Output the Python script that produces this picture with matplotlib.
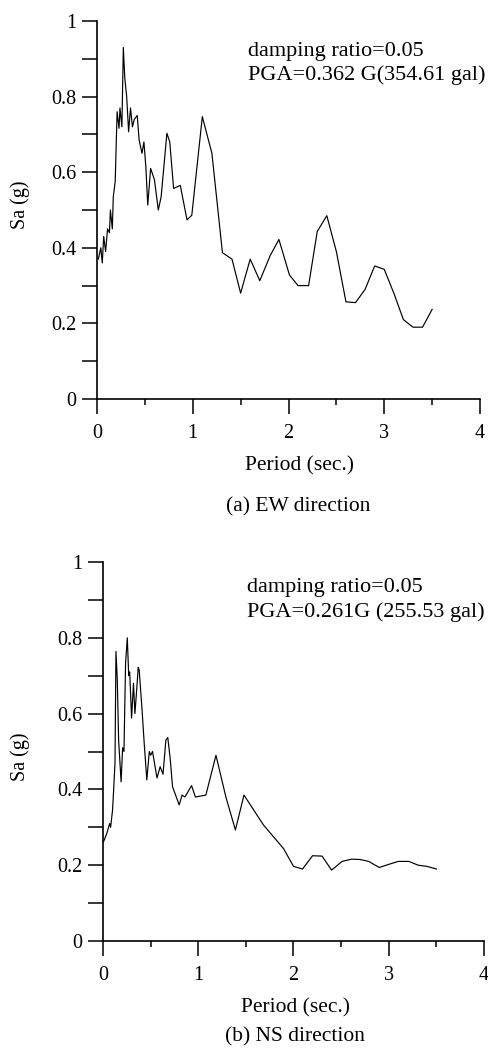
import matplotlib
matplotlib.use("Agg")
import matplotlib.pyplot as plt
from matplotlib.ticker import MultipleLocator, FixedLocator

plt.rcParams['font.family'] = ['Liberation Serif', 'DejaVu Serif']

# ---- data ----
ew_period = [0.014, 0.04, 0.055, 0.07, 0.09, 0.11, 0.13, 0.14, 0.16, 0.17, 0.19, 0.21, 0.23, 0.24,
             0.26, 0.275, 0.29, 0.31, 0.33, 0.35, 0.37, 0.39, 0.42, 0.44, 0.47, 0.49, 0.51, 0.53,
             0.56, 0.60, 0.64, 0.67, 0.73, 0.76, 0.80, 0.87, 0.94, 0.99, 1.10, 1.20, 1.31, 1.41,
             1.50, 1.60, 1.70, 1.81, 1.90, 2.01, 2.10, 2.21, 2.30, 2.40, 2.50, 2.60, 2.70, 2.80,
             2.90, 3.00, 3.10, 3.20, 3.30, 3.40, 3.50]
ew_sa = [0.37, 0.40, 0.36, 0.43, 0.39, 0.45, 0.44, 0.50, 0.45, 0.535, 0.575, 0.76, 0.716, 0.77,
         0.72, 0.93, 0.85, 0.80, 0.707, 0.77, 0.72, 0.74, 0.75, 0.685, 0.65, 0.68, 0.615, 0.513,
         0.61, 0.58, 0.50, 0.535, 0.703, 0.68, 0.557, 0.565, 0.474, 0.486, 0.747, 0.65, 0.387, 0.37,
         0.28, 0.37, 0.313, 0.38, 0.422, 0.328, 0.30, 0.30, 0.443, 0.485, 0.39, 0.257, 0.255, 0.29,
         0.352, 0.343, 0.28, 0.21, 0.19, 0.19, 0.237]

ns_period = [0.006, 0.04, 0.07, 0.08, 0.10, 0.11, 0.126, 0.136, 0.15, 0.164, 0.19, 0.206, 0.22,
             0.237, 0.255, 0.27, 0.28, 0.30, 0.32, 0.335, 0.35, 0.37, 0.38, 0.41, 0.433, 0.46,
             0.486, 0.50, 0.52, 0.567, 0.60, 0.63, 0.66, 0.68, 0.706, 0.73, 0.80, 0.83, 0.86, 0.93,
             0.97, 1.08, 1.186, 1.29, 1.39, 1.48, 1.685, 1.895, 2.0, 2.095, 2.20, 2.30, 2.40, 2.51,
             2.61, 2.70, 2.79, 2.90, 3.01, 3.10, 3.21, 3.31, 3.40, 3.50]
ns_sa = [0.262, 0.284, 0.31, 0.30, 0.345, 0.39, 0.47, 0.764, 0.69, 0.53, 0.42, 0.51, 0.50,
         0.733, 0.80, 0.70, 0.71, 0.588, 0.68, 0.60, 0.65, 0.722, 0.715, 0.61, 0.52, 0.425,
         0.50, 0.49, 0.50, 0.43, 0.46, 0.44, 0.53, 0.537, 0.48, 0.407, 0.359, 0.385, 0.38, 0.41,
         0.38, 0.385, 0.49, 0.38, 0.293, 0.385, 0.306, 0.244, 0.197, 0.19, 0.225, 0.224, 0.187,
         0.21, 0.216, 0.215, 0.21, 0.194, 0.203, 0.21, 0.21, 0.20, 0.197, 0.19]

x_ticks = [0, 1, 2, 3, 4]
y_ticks = [0, 0.2, 0.4, 0.6, 0.8, 1]
y_ticklabels = ['0', '0.2', '0.4', '0.6', '0.8', '1']
xlabel = 'Period (sec.)'
ylabel = 'Sa (g)'
captions = ['(a) EW direction', '(b) NS direction']
notes = [['damping ratio=0.05', 'PGA=0.362 G(354.61 gal)'],
         ['damping ratio=0.05', 'PGA=0.261G (255.53 gal)']]

W, H = 489, 1055
fig = plt.figure(figsize=(W / 100, H / 100), dpi=100)

# axes boxes in pixels: left, right, top, bottom
boxes = [(97, 480, 21, 399), (103, 484, 562, 941)]
series = [(ew_period, ew_sa), (ns_period, ns_sa)]
note_pos = [(1.58, 0.918, 0.857), (1.51, 0.932, 0.869)]

TICK_FS = 14.5
LABEL_FS = 15.5
YLABEL_FS = 14.5
NOTE_FS = 16

for i, ((l, r, t, b), (px, sy)) in enumerate(zip(boxes, series)):
    ax = fig.add_axes([l / W, 1 - b / H, (r - l) / W, (b - t) / H])
    ax.plot(px, sy, color='black', lw=0.85)
    ax.set_xlim(0, 4)
    ax.set_ylim(0, 1)
    for s in ['top', 'right']:
        ax.spines[s].set_visible(False)
    for s in ['left', 'bottom']:
        ax.spines[s].set_linewidth(1.2)
    ax.xaxis.set_major_locator(FixedLocator(x_ticks))
    ax.xaxis.set_minor_locator(MultipleLocator(0.5))
    ax.yaxis.set_major_locator(FixedLocator(y_ticks))
    ax.set_yticklabels(y_ticklabels)
    ax.yaxis.set_minor_locator(MultipleLocator(0.1))
    ax.tick_params(axis='x', which='major', direction='out', length=11, width=1.1,
                   labelsize=TICK_FS, pad=7)
    ax.tick_params(axis='x', which='minor', direction='out', length=4, width=1.1)
    ax.tick_params(axis='y', which='both', direction='out', length=11, width=1.1,
                   labelsize=TICK_FS, pad=4)
    nx, ny1, ny2 = note_pos[i]
    ax.text(nx, ny1, notes[i][0], fontsize=NOTE_FS, va='center', ha='left')
    ax.text(nx, ny2, notes[i][1], fontsize=NOTE_FS, va='center', ha='left')

# axis labels and captions (pixel positions)
def ftext(x, y, s, **kw):
    fig.text(x / W, 1 - y / H, s, ha='center', va='center', **kw)

ftext(20, 205, ylabel, rotation=90, fontsize=YLABEL_FS)
ftext(20, 757, ylabel, rotation=90, fontsize=YLABEL_FS)
ftext(300, 466, xlabel, fontsize=LABEL_FS)
ftext(296, 1008, xlabel, fontsize=LABEL_FS)
ftext(298, 507, captions[0], fontsize=LABEL_FS)
ftext(295, 1037, captions[1], fontsize=LABEL_FS)

fig.savefig('out.png', dpi=100)
